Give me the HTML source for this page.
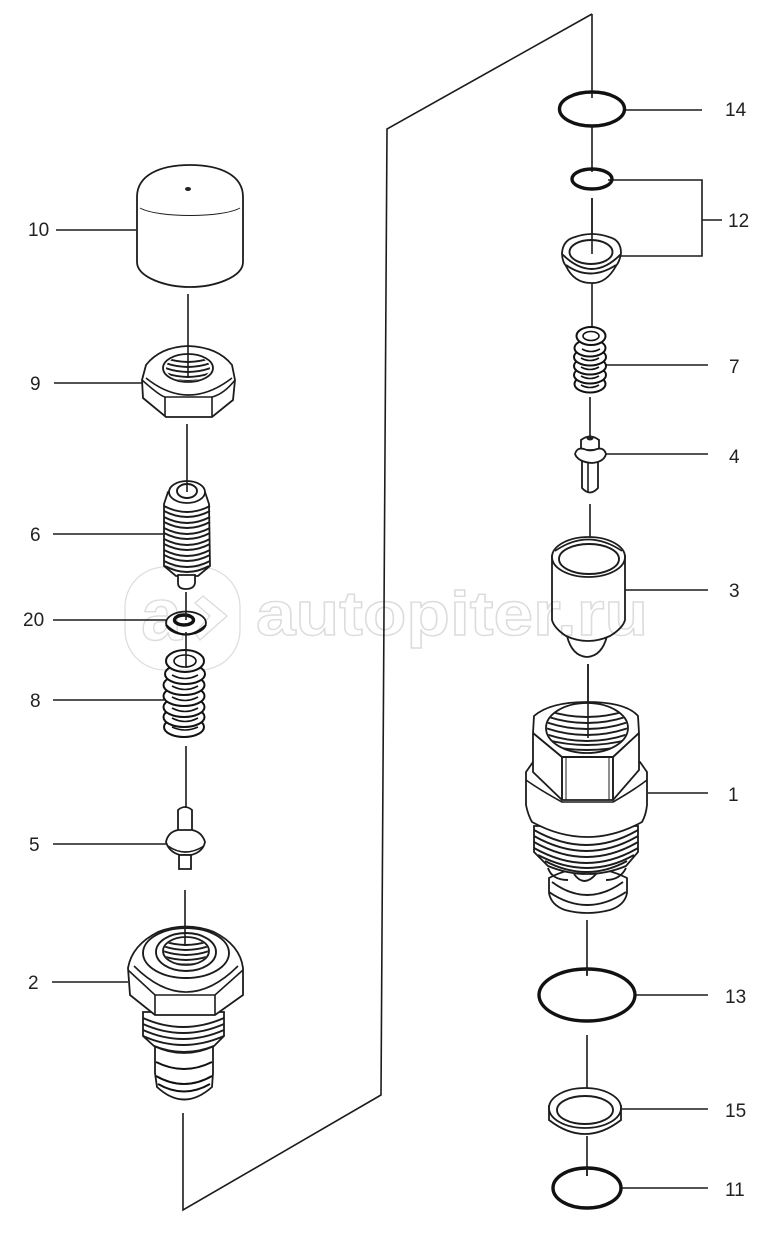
<!DOCTYPE html>
<html><head><meta charset="utf-8"><style>
html,body{margin:0;padding:0;background:#fff}
svg{display:block}
text{font-family:"Liberation Sans",sans-serif;font-size:19px;fill:#222}
.l{fill:none;stroke:#1c1c1c;stroke-width:1.6}
.t{fill:none;stroke:#1c1c1c;stroke-width:1.9}
.b{fill:none;stroke:#111;stroke-width:1.6}
.p{fill:#fff;stroke:#1c1c1c;stroke-width:1.8}
.o{fill:none;stroke:#111;stroke-width:3.4}
.s{fill:#fff;stroke:#111;stroke-width:2}
.wm{mix-blend-mode:multiply}
.wm text{font-family:"Liberation Sans",sans-serif;font-weight:bold;fill:#fff;stroke:#dcdcdc;stroke-width:1.4}
</style></head><body>
<svg width="770" height="1235" viewBox="0 0 770 1235" xmlns="http://www.w3.org/2000/svg">
<defs>
<clipPath id="c9"><ellipse cx="188" cy="368" rx="22" ry="13"/></clipPath>
<clipPath id="c2"><ellipse cx="186" cy="951" rx="22" ry="13"/></clipPath>
<clipPath id="c1"><ellipse cx="587" cy="728" rx="40" ry="25"/></clipPath>
</defs>
<rect width="770" height="1235" fill="#fff"/>
<!-- connector -->
<path class="l" d="M592 14 387 129 381 1095 183 1210V1113"/>
<!-- leaders -->
<path class="l" d="M56 230H136M54 383H142M53 534H163M53 620H166M53 700H164M53 844H166M52 982H128M624 110H702M608 180H702V256H620M702 220H722M606 365H708M604 454H708M625 590H708M648 793H708M636 995H708M620 1109H708M622 1188H708"/>

<!-- 10 cap -->
<path class="p" d="M137 197C137 175 160 165 190 165S243 175 243 197V262C243 277 215 287 190 287S137 277 137 262Z"/>
<path class="l" style="stroke-width:1" d="M140 208C158 218 222 218 240 208"/>
<ellipse cx="188" cy="189" rx="3" ry="2" fill="#222"/>

<!-- 9 nut -->
<path class="p" d="M142 380L146 365Q160 347 188 346 218 347 232 365L235 380 233 400 212 417H166L143 398Z"/>
<path class="l" d="M142 380Q160 396 165 397H212Q224 394 235 380M165 397V416M212 397V416"/>
<path class="l" d="M146 378Q188 412 232 378"/>
<ellipse class="p" cx="188" cy="368" rx="25" ry="14"/>
<g clip-path="url(#c9)"><path class="t" d="M160 356q28 12 56 0M160 361q28 12 56 0M160 366q28 12 56 0M160 371q28 12 56 0M160 376q28 10 56 0"/></g>

<!-- 6 -->
<path class="p" d="M168 492Q186 476 205 492L209 504 210 566 198 576H176L164 566V504Z"/>
<path class="p" d="M178 575H195V583Q194 589 186 589 178 589 178 583Z"/>
<path class="t" d="M164 506q23 12 46 0M164 511q23 12 46 0M164 517q23 12 46 0M164 522q23 12 46 0M164 528q23 12 46 0M164 533q23 12 46 0M164 539q23 12 46 0M164 544q23 12 46 0M164 550q23 12 46 0M164 555q23 12 46 0M164 561q23 12 46 0M165 566q22 12 44 0"/>
<ellipse class="p" cx="187" cy="492" rx="18" ry="11"/>
<ellipse class="t" cx="187" cy="491" rx="10" ry="7"/>

<!-- 20 washer -->
<ellipse class="p" cx="186" cy="623" rx="20" ry="11.5"/>
<path class="b" d="M166 625Q186 644 206 625" style="stroke-width:2.2"/>
<ellipse class="o" cx="184" cy="620" rx="9.5" ry="5"/>

<!-- 8 spring -->
<g>
<ellipse class="s" cx="184" cy="727" rx="20" ry="10"/>
<ellipse class="s" cx="184" cy="717" rx="20.5" ry="10"/>
<ellipse class="s" cx="184" cy="707" rx="20.5" ry="10"/>
<ellipse class="s" cx="184" cy="696" rx="20.5" ry="10"/>
<ellipse class="s" cx="184" cy="685" rx="20.5" ry="10"/>
<ellipse class="s" cx="185" cy="674" rx="20" ry="10"/>
<ellipse class="s" cx="185" cy="661" rx="19" ry="11"/>
<ellipse class="b" cx="185" cy="661" rx="11" ry="6"/>
<path class="b" d="M172 675q13 7 26 0M172 686q13 7 26 0M172 697q13 7 26 0M172 708q13 7 26 0M172 718q13 7 26 0M172 727q13 6 26 0"/>
</g>

<!-- 5 -->
<path class="p" d="M178 810Q185 804 192 810V832H178Z"/>
<path class="p" d="M166 842Q168 832 178 830H192Q202 832 205 842 203 852 191 855H180Q169 852 166 842Z"/>
<path class="l" d="M168 846Q185 858 204 846"/>
<path class="p" d="M179 855H191V869H179Z"/>

<!-- 2 -->
<path class="p" d="M155 1044H213V1073L212 1087Q184 1112 157 1087L155 1073Z"/>
<path class="b" d="M156 1062q28 14 56 0M156 1076q28 16 56 0M158 1084q26 15 52 0" style="stroke-width:2"/>
<path class="p" d="M143 1012H224V1036L214 1046Q184 1060 154 1046L143 1036Z"/>
<path class="t" d="M143 1018q40 18 81 0M143 1024q40 18 81 0M143 1030q40 18 81 0M143 1036q40 18 81 0M154 1046q30 12 60 0"/>
<path class="p" d="M128 968Q132 945 158 932 186 921 214 932 240 945 243 968V995L215 1015H155L130 995Z"/>
<path class="l" d="M128 970 155 995H215L243 970M155 995V1015M215 995V1015"/>
<path class="l" d="M134 966Q186 1018 238 966"/>
<ellipse class="t" cx="186" cy="953" rx="43" ry="25"/>
<ellipse class="t" cx="186" cy="952" rx="30" ry="19"/>
<ellipse class="p" cx="186" cy="951" rx="23" ry="14"/>
<g clip-path="url(#c2)"><path class="t" d="M160 940q26 10 52 0M160 945q26 10 52 0M160 950q26 10 52 0M160 955q26 10 52 0M160 960q26 9 52 0"/></g>

<!-- center connector pieces -->
<path class="l" d="M592 14V98M592 126V172M592 198V262M592 284V350M590 397V456M590 504V564M588 664V745M587 920V975M587 1035V1120M587 1136V1176M188 294V376M187 424V492M186 592V620M186 632V668M186 746V808M185 890V946"/>

<!-- 14,12 rings -->
<ellipse class="o" cx="592" cy="109" rx="32.5" ry="17"/>
<ellipse class="o" cx="592" cy="179" rx="20" ry="10"/>
<path class="p" d="M562 253Q563 240 575 237 592 231 609 237 621 240 621 253 620 261 616 266 606 284 591 283 574 283 566 266 562 261 562 253Z"/>
<path class="t" d="M562 254Q592 284 621 254M566 265Q590 282 616 265"/>
<ellipse class="t" cx="591" cy="252" rx="21.5" ry="12"/>
<path class="l" d="M592 198V254"/>

<!-- 7 spring -->
<ellipse class="s" cx="590" cy="384" rx="15.5" ry="8.5"/>
<ellipse class="s" cx="590" cy="375" rx="16" ry="8.5"/>
<ellipse class="s" cx="590" cy="366" rx="16" ry="8.5"/>
<ellipse class="s" cx="590" cy="357" rx="16" ry="8.5"/>
<ellipse class="s" cx="590" cy="348" rx="15.5" ry="8.5"/>
<ellipse class="s" cx="591" cy="336" rx="14.5" ry="9"/>
<ellipse class="b" cx="591" cy="336" rx="8" ry="4.5"/>
<path class="b" d="M582 349q9 5 18 0M581 358q9 5 18 0M581 367q9 5 18 0M581 376q9 5 18 0M581 385q9 5 18 0"/>

<!-- 4 -->
<path class="p" d="M581 440Q590 433 599 440V450H581Z"/>
<ellipse cx="590" cy="438" rx="3.5" ry="2.5" fill="#222"/>
<path class="p" d="M582 460H598V488Q590 497 582 488Z"/>
<path class="p" d="M575 454Q577 447 584 449 590 452 597 449 604 447 606 454 604 462 592 463 578 462 575 454Z"/>
<path class="l" d="M588 462V492"/>

<!-- 3 -->
<path class="p" d="M567 636Q572 656 587 657 602 656 607 636Z"/>
<path class="p" d="M552 556V620Q554 628 566 636 588 646 610 636 623 628 625 620V556Z"/>
<ellipse class="p" cx="588.5" cy="557" rx="36.5" ry="20"/>
<ellipse class="t" cx="589" cy="559" rx="30" ry="15"/>
<path class="l" d="M555 551Q588 528 622 551"/>

<!-- 1 -->
<path class="p" d="M549 878V893Q551 905 565 910 587 916 610 910 625 905 627 893V878Q587 858 549 878Z"/>
<path class="t" d="M548 868Q552 880 568 880M606 880Q620 880 626 868M574 874q10 14 22 0M552 882Q587 908 623 882M549 892Q587 918 626 892"/>
<path class="p" d="M534 826V852L548 866Q587 882 626 866L638 852V826Z"/>
<path class="t" d="M534 830q53 30 104 0M534 836q53 30 104 0M534 842q53 30 104 0M534 848q53 30 104 0M538 855q50 26 96 0M545 861q42 22 82 0"/>
<path class="p" d="M526 772V805Q528 815 532 822 587 852 642 822 646 815 647 805V772L640 762H533Z"/>
<path class="l" d="M526 780Q540 790 562 802H613Q634 790 647 780"/>
<path class="p" d="M533 733 534 716Q550 702 587 702 626 702 638 716L639 733V770L613 800H562L533 772Z"/>
<path class="t" d="M533 733 562 757H613L639 733M562 757V800M613 757V800"/>
<path class="l" d="M566 758V800M609 758V800" style="stroke-width:1"/>
<ellipse class="p" cx="587" cy="728" rx="41" ry="25"/>
<g clip-path="url(#c1)"><path class="t" d="M540 708q47 18 94 0M540 714q47 18 94 0M540 720q47 18 94 0M540 726q47 18 94 0M540 732q47 18 94 0M540 738q47 14 94 0M540 744q47 12 94 0"/></g>
<path class="l" d="M588 664V738"/>

<!-- 13,15,11 -->
<ellipse class="o" cx="587" cy="995" rx="48" ry="26"/>
<path class="p" d="M549 1106V1120Q585 1148 621 1120V1106Z"/>
<ellipse class="p" cx="585" cy="1108" rx="36" ry="20"/>
<ellipse class="t" cx="585" cy="1110" rx="28" ry="14"/>
<ellipse class="o" cx="587" cy="1188" rx="34" ry="20"/>
<path class="l" d="M587 968V976M587 1166V1176"/>

<!-- watermark -->
<g class="wm">
<rect x="125" y="567" width="115" height="103" rx="40" fill="none" stroke="#dedede" stroke-width="1.3"/>
<path d="M195 603 203 596 227 616 200 640 195 633 210 616Z" fill="none" stroke="#dcdcdc" stroke-width="1.4"/>
<text x="141" y="640" style="font-size:74px">a</text>
<text x="256" y="635" style="font-size:62px" textLength="392" lengthAdjust="spacingAndGlyphs">autopiter.ru</text>
</g>

<!-- labels -->
<text x="28" y="236">10</text><text x="30" y="390">9</text><text x="30" y="541">6</text>
<text x="23" y="626">20</text><text x="30" y="707">8</text><text x="29" y="851">5</text><text x="28" y="989">2</text>
<text x="725" y="116">14</text><text x="728" y="227">12</text><text x="729" y="373">7</text><text x="729" y="463">4</text>
<text x="729" y="597">3</text><text x="728" y="801">1</text><text x="725" y="1003">13</text><text x="725" y="1117">15</text><text x="725" y="1196">11</text>
</svg>
</body></html>
